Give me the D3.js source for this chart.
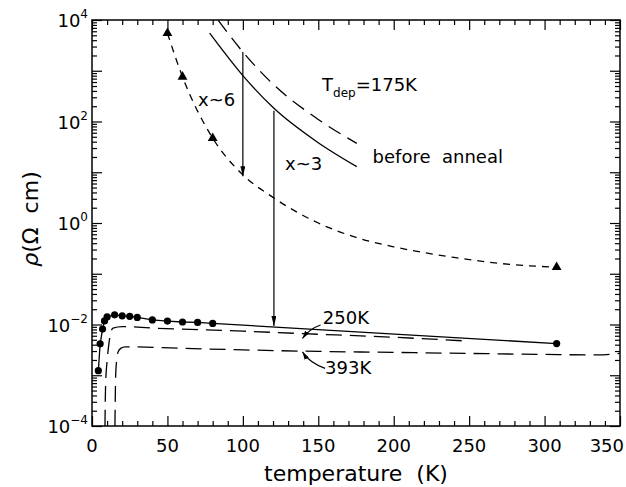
<!DOCTYPE html>
<html>
<head>
<meta charset="utf-8">
<script src="https://cdn.jsdelivr.net/npm/d3@7"></script>
<style>
  body { margin: 0; background: #fff; }
  text { font-family: "DejaVu Sans", sans-serif; fill: #000; white-space: pre; }
</style>
</head>
<body>
<svg id="drawing_region"></svg>
<script>
// before anneal, T_dep = 175K
const beforeSolidT = [78, 101, 120.6, 149, 175.5];
const beforeSolidRho = [5500, 740, 182, 40, 12.9];
const beforeDashT = [83.7, 100.8, 120.6, 149, 175.5];
const beforeDashRho = [9800, 2200, 525, 115, 37];

// annealed, x~6 (dashed with triangles)
const annealT = [50, 60, 80, 100, 120, 150, 175, 200, 240, 280, 308];
const annealRho = [5500, 760, 47, 8.9, 3.2, 1.0, 0.52, 0.34, 0.21, 0.15, 0.135];
const triT = [50, 60, 80, 308];
const triRho = [5500, 760, 47, 0.135];

// annealed at 250K (solid with dots)
const dotT = [4.2, 5.4, 7.0, 8.3, 10, 15, 20, 25, 30, 40, 50, 60, 70, 80, 308];
const dotRho = [0.00123, 0.00417, 0.00813, 0.01175, 0.0141, 0.0155, 0.0148, 0.0145,
                0.0138, 0.0123, 0.0117, 0.0112, 0.0110, 0.0105, 0.0042];

// dashed 250K and 393K curves
const dash250T = [8.6, 8.8, 9.2, 9.9, 11.3, 13.9, 20, 40, 100, 140, 200, 250];
const dash250Rho = [1e-4, 3.2e-4, 8.9e-4, 1.74e-3, 4.4e-3, 8.5e-3, 9.1e-3, 8.5e-3,
                    7.4e-3, 6.6e-3, 5.6e-3, 4.7e-3];
const dash393T = [15.2, 15.4, 15.7, 16.2, 17.2, 19, 22, 60, 100, 150, 200, 250, 300, 335, 350];
const dash393Rho = [1e-4, 3.2e-4, 1e-3, 1.78e-3, 2.82e-3, 3.39e-3, 3.63e-3, 3.39e-3,
                    3.16e-3, 2.95e-3, 2.82e-3, 2.69e-3, 2.57e-3, 2.51e-3, 2.69e-3];

// vertical arrows (x~6, x~3)
const arrowT = [100, 120.6];
const arrowFromRho = [2340, 162];
const arrowToRho = [8.3, 0.0093];

// axes
const xTicks = [0, 50, 100, 150, 200, 250, 300, 350];
const yDecades = [-4, -3, -2, -1, 0, 1, 2, 3, 4];
const yLabelDecades = [-4, -2, 0, 2, 4];

var config = {
    width: 626,
    height: 487,
    margin: { top: 20, right: 6, bottom: 61, left: 92 },
};

const svg = d3.select('#drawing_region')
    .attr('width', config.width)
    .attr('height', config.height);

const inner_width = config.width - config.margin.left - config.margin.right;
const inner_height = config.height - config.margin.top - config.margin.bottom;

const chart = svg.append('g')
    .attr('transform', `translate(${config.margin.left}, ${config.margin.top})`);

const xscale = d3.scaleLinear().domain([0, 350]).range([0, inner_width]);
const yscale = d3.scaleLog().domain([1e-4, 1e4]).range([inner_height, 0]);

// arrow heads
const defs = svg.append('defs');
defs.append('marker')
    .attr('id', 'head')
    .attr('viewBox', '0 0 12 6')
    .attr('refX', 12).attr('refY', 3)
    .attr('markerWidth', 12).attr('markerHeight', 5)
    .attr('markerUnits', 'userSpaceOnUse')
    .attr('orient', 'auto')
    .append('path').attr('d', 'M0,0 L12,3 L0,6 Z').attr('fill', '#000');
defs.append('marker')
    .attr('id', 'smallhead')
    .attr('viewBox', '0 0 10 6')
    .attr('refX', 10).attr('refY', 3)
    .attr('markerWidth', 8).attr('markerHeight', 5)
    .attr('markerUnits', 'userSpaceOnUse')
    .attr('orient', 'auto')
    .append('path').attr('d', 'M0,0 L10,3 L0,6 Z').attr('fill', '#000');
defs.append('clipPath').attr('id', 'clip')
    .append('rect').attr('width', inner_width).attr('height', inner_height);

// minor log ticks
const yMinor = [];
yDecades.slice(0, -1).forEach(e => {
    for (let m = 2; m <= 9; m++) yMinor.push(m * Math.pow(10, e));
});
const xMinor = d3.range(0, 351, 10).filter(v => v % 50 !== 0);

function addTicks(axisFn, scale, values, size, transform) {
    chart.append('g')
        .attr('transform', transform)
        .call(axisFn(scale).tickValues(values).tickSizeInner(-size).tickSizeOuter(0).tickFormat(''))
        .call(g => g.select('.domain').remove())
        .call(g => g.selectAll('line').attr('stroke', '#000').attr('stroke-width', 1.2));
}

const yMajorVals = yDecades.map(e => Math.pow(10, e));
addTicks(d3.axisBottom, xscale, xMinor, 5, `translate(0, ${inner_height})`);
addTicks(d3.axisBottom, xscale, xTicks, 10, `translate(0, ${inner_height})`);
addTicks(d3.axisTop, xscale, xMinor, 5, 'translate(0, 0)');
addTicks(d3.axisTop, xscale, xTicks, 10, 'translate(0, 0)');
addTicks(d3.axisLeft, yscale, yMinor, 5, 'translate(0, 0)');
addTicks(d3.axisLeft, yscale, yMajorVals, 10, 'translate(0, 0)');
addTicks(d3.axisRight, yscale, yMinor, 5, `translate(${inner_width}, 0)`);
addTicks(d3.axisRight, yscale, yMajorVals, 10, `translate(${inner_width}, 0)`);

// x tick labels (last one kept inside the picture)
const lastTick = xTicks[xTicks.length - 1];
chart.append('g').selectAll('text')
    .data(xTicks)
    .join('text')
    .attr('x', d => d === lastTick ? xscale(d) + 4 : xscale(d))
    .attr('y', inner_height + 26)
    .attr('text-anchor', d => d === lastTick ? 'end' : 'middle')
    .attr('font-size', 18)
    .text(d => d);

// y tick labels 10^n
const ylab = chart.append('g').selectAll('text')
    .data(yLabelDecades)
    .join('text')
    .attr('x', -4)
    .attr('y', d => yscale(Math.pow(10, d)) + 7)
    .attr('text-anchor', 'end')
    .attr('font-size', 18);
ylab.append('tspan').text('10');
ylab.append('tspan')
    .attr('dy', -9)
    .attr('font-size', 12)
    .text(d => d < 0 ? '\u2212' + (-d) : d);

// frame
chart.append('rect')
    .attr('width', inner_width)
    .attr('height', inner_height)
    .attr('fill', 'none')
    .attr('stroke', '#000')
    .attr('stroke-width', 1.5);

// axis titles
svg.append('text')
    .attr('x', config.margin.left + inner_width / 2)
    .attr('y', 481)
    .attr('text-anchor', 'middle')
    .attr('font-size', 22)
    .text('temperature  (K)');

const ytitle = svg.append('text')
    .attr('transform', 'translate(38, 219) rotate(-90)')
    .attr('text-anchor', 'middle')
    .attr('font-size', 22);
ytitle.append('tspan').attr('font-style', 'italic').text('\u03c1');
ytitle.append('tspan').text('(\u03a9  cm)');

// curves
const plot = chart.append('g').attr('clip-path', 'url(#clip)');
const smooth = d3.line()
    .x(d => xscale(d[0]))
    .y(d => yscale(d[1]))
    .curve(d3.curveMonotoneX);
const straight = d3.line()
    .x(d => xscale(d[0]))
    .y(d => yscale(d[1]));

function drawLine(gen, T, rho, dash) {
    plot.append('path')
        .datum(d3.zip(T, rho))
        .attr('d', gen)
        .attr('fill', 'none')
        .attr('stroke', '#000')
        .attr('stroke-width', 1.3)
        .attr('stroke-dasharray', dash);
}

drawLine(smooth, beforeSolidT, beforeSolidRho, null);
drawLine(smooth, beforeDashT, beforeDashRho, '14,8');
drawLine(smooth, annealT, annealRho, '7,6');
drawLine(straight, dotT, dotRho, null);
drawLine(smooth, dash250T, dash250Rho, '16,8');
drawLine(smooth, dash393T, dash393Rho, '16,8');

// markers
chart.append('g').selectAll('path')
    .data(d3.zip(triT, triRho))
    .join('path')
    .attr('d', d3.symbol(d3.symbolTriangle).size(42))
    .attr('transform', d => `translate(${xscale(d[0])}, ${yscale(d[1])})`)
    .attr('fill', '#000');

chart.append('g').selectAll('circle')
    .data(d3.zip(dotT, dotRho))
    .join('circle')
    .attr('cx', d => xscale(d[0]))
    .attr('cy', d => yscale(d[1]))
    .attr('r', 3.6)
    .attr('fill', '#000');

// vertical arrows
chart.append('g').selectAll('line')
    .data(d3.zip(arrowT, arrowFromRho, arrowToRho))
    .join('line')
    .attr('x1', d => xscale(d[0]))
    .attr('x2', d => xscale(d[0]))
    .attr('y1', d => yscale(d[1]))
    .attr('y2', d => yscale(d[2]))
    .attr('stroke', '#000')
    .attr('stroke-width', 1.2)
    .attr('marker-end', 'url(#head)');

// annotations
function note(T, rho, str, size) {
    return chart.append('text')
        .attr('x', xscale(T))
        .attr('y', yscale(rho))
        .attr('font-size', size || 18)
        .text(str);
}
note(70.3, 204, 'x~6');
note(128, 11, 'x~3');
note(186, 15, 'before  anneal');
note(153, 0.0102, '250K');
note(154.5, 0.00106, '393K');

const tdep = chart.append('text')
    .attr('x', xscale(152.5))
    .attr('y', yscale(400))
    .attr('font-size', 18);
tdep.append('tspan').text('T');
tdep.append('tspan').attr('dy', 6).attr('font-size', 12).text('dep');
tdep.append('tspan').attr('dy', -6).text('=175K');

// leader arrows for 250K and 393K labels
function leader(T0, r0, T1, r1, bend) {
    const x0 = xscale(T0), y0 = yscale(r0), x1 = xscale(T1), y1 = yscale(r1);
    const cx = (x0 + x1) / 2 + bend[0], cy = (y0 + y1) / 2 + bend[1];
    chart.append('path')
        .attr('d', `M${x0},${y0} Q${cx},${cy} ${x1},${y1}`)
        .attr('fill', 'none')
        .attr('stroke', '#000')
        .attr('stroke-width', 1.2)
        .attr('marker-end', 'url(#smallhead)');
}
leader(151.5, 0.0098, 139.5, 0.0053, [-2, -3]);
leader(154.5, 0.00137, 139.5, 0.00288, [-4, 3]);
</script>
</body>
</html>
